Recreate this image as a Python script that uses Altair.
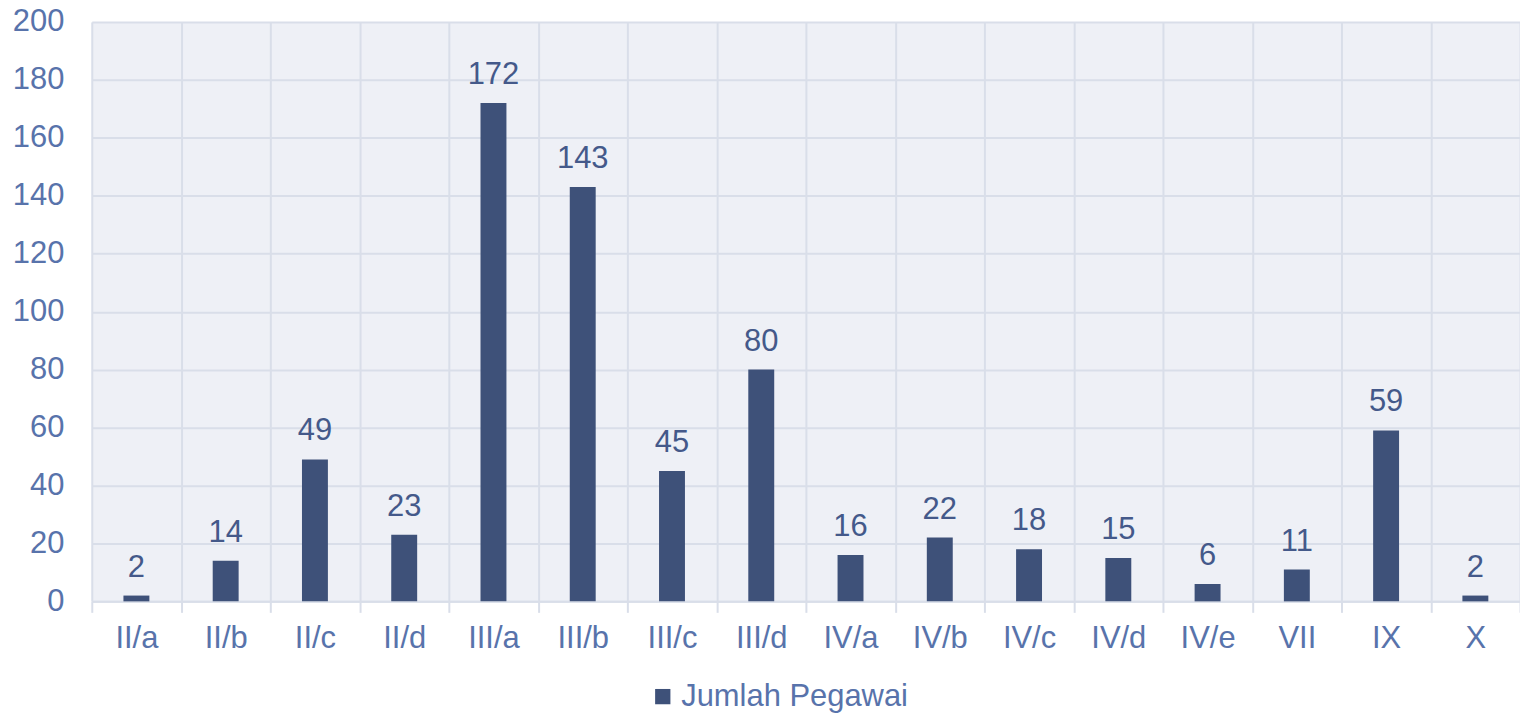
import altair as alt
import pandas as pd

categories = ["II/a", "II/b", "II/c", "II/d", "III/a", "III/b", "III/c", "III/d",
              "IV/a", "IV/b", "IV/c", "IV/d", "IV/e", "VII", "IX", "X"]
values = [2, 14, 49, 23, 172, 143, 45, 80, 16, 22, 18, 15, 6, 11, 59, 2]
series_name = "Jumlah Pegawai"

df = pd.DataFrame({"Golongan": categories, "Jumlah": values, "Seri": series_name})

FONT = "Liberation Sans"
FS = 31
AXIS_COL = "#5873ab"
LABEL_COL = "#44598a"
BAR_COL = "#3e5179"
GRID_COL = "#d9dee9"

x = alt.X("Golongan:N", sort=categories, title=None,
          scale=alt.Scale(paddingInner=0, paddingOuter=0),
          axis=alt.Axis(labelAngle=0, labelFont=FONT, labelFontSize=FS,
                        labelColor=AXIS_COL, labelPadding=11,
                        tickBand="extent", tickSize=11, tickColor=GRID_COL,
                        tickWidth=2, domainColor=GRID_COL, domainWidth=2,
                        grid=True, gridColor=GRID_COL, gridWidth=2))
y = alt.Y("Jumlah:Q", title=None,
          scale=alt.Scale(domain=[0, 200]),
          axis=alt.Axis(values=list(range(0, 201, 20)), labelFont=FONT,
                        labelFontSize=FS, labelColor=AXIS_COL, labelPadding=28,
                        ticks=False, domain=False, grid=True,
                        gridColor=GRID_COL, gridWidth=2))

bars = alt.Chart(df).mark_bar(size=26).encode(
    x=x, y=y,
    color=alt.Color("Seri:N", scale=alt.Scale(range=[BAR_COL]),
                    legend=alt.Legend(title=None, orient="none",
                                      legendX=557, legendY=661,
                                      symbolType="square", symbolSize=235,
                                      symbolStrokeWidth=0,
                                      labelFont=FONT, labelFontSize=FS,
                                      labelColor=AXIS_COL, labelLimit=400,
                                      labelOffset=3))
)

labels = alt.Chart(df).mark_text(font=FONT, fontSize=FS, color=LABEL_COL,
                                 baseline="alphabetic", dy=-19).encode(
    x=alt.X("Golongan:N", sort=categories),
    y=alt.Y("Jumlah:Q"),
    text="Jumlah:Q"
)

chart = (bars + labels).properties(
    width=1432, height=581,
    autosize=alt.AutoSizeParams(type="none"),
    padding={"left": 84, "top": 13, "right": 0, "bottom": 112},
    background="white"
).configure_view(fill="#eef0f6", stroke=None)

chart.save("out.html", embed_options={"renderer": "svg", "actions": False})
